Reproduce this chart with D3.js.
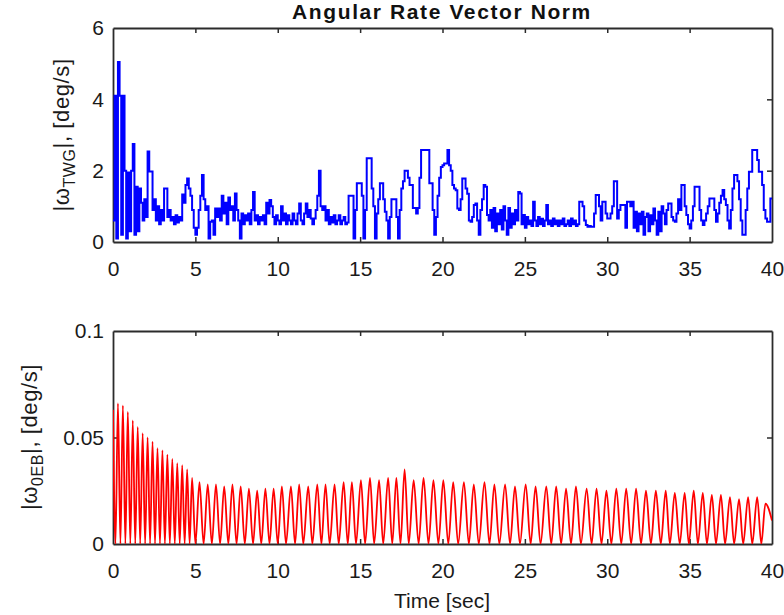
<!DOCTYPE html>
<html>
<head>
<meta charset="utf-8">
<script src="https://cdn.jsdelivr.net/npm/d3@7"></script>
<style>
	body { margin: 0; background: #fff; }
	svg { display: block; font-family: "Liberation Sans", Arial, sans-serif; }
</style>
</head>
<body>
<svg id="chart" width="784" height="615"></svg>
<script>
// time axis, shared by both panels
const timeTicks = [0, 5, 10, 15, 20, 25, 30, 35, 40];

// |w_TWG| sampled every 0.1 s (one row per second)
const twgStep = 0.1;
const twgRate = [
	0.6, 4.1, 0.1, 5.05, 4.1, 0.2, 4.1, 2.0, 0.1, 1.95,
	0.3, 2.0, 2.75, 0.2, 1.55, 0.3, 1.5, 1.1, 0.6, 1.2,
	0.7, 2.54, 1.98, 1.98, 0.9, 1.2, 0.6, 1.0, 0.5, 0.9,
	0.6, 1.5, 1.5, 0.7, 0.9, 0.6, 0.7, 0.5, 0.75, 0.55,
	0.7, 0.6, 1.33, 1.1, 1.6, 1.78, 1.5, 1.3, 0.9, 0.4,
	0.2, 0.4, 0.9, 1.3, 1.88, 1.2, 0.9, 1.0, 0.1, 0.57,
	0.6, 0.2, 0.94, 0.7, 0.94, 0.6, 1.3, 0.8, 1.1, 0.5,
	1.25, 0.9, 1.0, 0.6, 1.36, 0.9, 0.6, 0.1, 0.8, 0.5,
	0.75, 0.6, 0.8, 0.5, 0.9, 1.4, 0.6, 0.75, 0.5, 0.7,
	0.6, 0.75, 0.5, 1.1, 0.8, 1.18, 1.0, 0.7, 0.5, 0.75,
	0.6, 0.5, 1.0, 0.6, 0.8, 0.5, 0.75, 0.6, 0.5, 0.8,
	0.6, 0.5, 0.8, 1.08, 0.6, 0.5, 0.8, 1.08, 0.7, 0.9,
	0.66, 0.5, 0.66, 0.9, 1.3, 2.0, 1.0, 0.9, 1.0, 0.6,
	0.9, 0.5, 0.7, 0.55, 0.75, 0.5, 0.6, 0.75, 0.5, 0.6,
	0.7, 0.5, 0.55, 1.3, 1.3, 1.3, 0.1, 0.9, 1.65, 1.65,
	1.65, 1.3, 0.1, 0.9, 2.35, 2.35, 2.35, 1.5, 1.0, 0.1,
	0.8, 1.2, 1.65, 1.65, 1.2, 0.85, 0.6, 0.1, 0.7, 1.2,
	1.2, 1.2, 0.7, 0.1, 0.9, 1.5, 1.7, 2.0, 2.0, 1.8,
	1.6, 1.6, 0.95, 0.95, 0.8, 0.95, 1.8, 2.58, 2.58, 2.58,
	2.58, 2.58, 1.65, 1.65, 0.9, 0.2, 0.7, 1.3, 1.8, 2.1,
	2.15, 2.2, 2.2, 2.58, 2.15, 2.0, 1.6, 1.5, 1.45, 0.94,
	0.9, 1.2, 1.78, 1.78, 1.5, 1.35, 0.6, 0.57, 0.7, 1.04,
	1.08, 0.6, 0.2, 0.9, 1.2, 1.6, 1.55, 0.76, 0.6, 0.9,
	0.4, 0.95, 0.3, 0.8, 0.5, 0.9, 0.35, 1.0, 0.6, 0.2,
	0.95, 0.4, 0.8, 0.5, 0.9, 0.6, 1.4, 1.36, 0.5, 0.76,
	0.4, 0.7, 0.5, 0.6, 0.45, 1.13, 0.6, 0.45, 0.7, 0.5,
	0.65, 0.45, 0.6, 1.04, 0.5, 0.6, 0.45, 0.66, 0.5, 0.6,
	0.45, 0.6, 0.5, 0.66, 0.45, 0.5, 0.6, 0.45, 0.66, 0.5,
	0.6, 0.45, 0.5, 1.13, 1.13, 1.0, 0.6, 0.48, 0.43, 0.45,
	0.43, 0.43, 0.8, 1.32, 1.32, 1.0, 0.6, 1.13, 1.13, 0.8,
	0.66, 0.66, 0.8, 1.0, 1.7, 1.7, 0.66, 0.9, 1.04, 1.04,
	1.04, 0.4, 1.13, 1.13, 1.0, 1.13, 0.4, 0.85, 0.3, 0.8,
	0.5, 0.85, 0.2, 0.7, 0.8, 0.3, 0.75, 0.5, 0.94, 0.6,
	0.2, 0.85, 0.3, 1.0, 0.8, 0.5, 0.9, 1.08, 1.08, 0.7,
	0.6, 0.57, 0.8, 1.2, 0.9, 1.6, 1.6, 1.0, 0.76, 0.5,
	0.38, 0.6, 1.0, 1.55, 1.55, 1.55, 0.9, 0.6, 0.48, 0.6,
	0.8, 1.0, 1.22, 1.22, 1.22, 0.9, 0.57, 0.8, 1.1, 1.3,
	1.46, 1.2, 1.04, 0.6, 0.38, 0.9, 1.5, 1.88, 1.88, 1.7,
	1.2, 0.6, 0.2, 0.2, 0.9, 1.5, 1.97, 1.97, 2.58, 2.58,
	2.58, 2.3, 1.97, 1.97, 1.6, 0.9, 0.66, 0.57, 0.57, 1.22,
	1.22
];
const twgTicks = [0, 2, 4, 6];

// |w_0EB| oscillation: peaks, and the near-zero troughs between them
const oebPeakTime = [
	0, 0.3, 0.6, 0.9, 1.2, 1.5, 1.8, 2.1, 2.4, 2.7, 3.0, 3.3, 3.6, 3.9, 4.2, 4.5, 4.8,
	5.25, 5.75, 6.25, 6.75, 7.25, 7.75, 8.25, 8.75, 9.25, 9.75,
	10.25, 10.8, 11.3, 11.85, 12.4, 12.9, 13.45, 14.0, 14.5,
	15.05, 15.6, 16.15, 16.7, 17.2, 17.7, 18.25, 18.85, 19.45,
	20.05, 20.65, 21.3, 21.9, 22.55, 23.15, 23.8, 24.4,
	25.05, 25.65, 26.3, 26.9, 27.5, 28.1, 28.75, 29.35, 29.95,
	30.55, 31.15, 31.75, 32.35, 32.95, 33.55, 34.1, 34.7,
	35.25, 35.8, 36.35, 36.9, 37.45, 38.0, 38.55, 39.1, 39.6
];
const oebPeakRate = [
	0.063, 0.066, 0.065, 0.062, 0.058, 0.055, 0.052, 0.050, 0.048, 0.045, 0.044, 0.042, 0.040, 0.038, 0.037, 0.035, 0.031,
	0.029, 0.028, 0.028, 0.027, 0.028, 0.027, 0.026, 0.025, 0.026, 0.026,
	0.027, 0.027, 0.028, 0.027, 0.028, 0.028, 0.028, 0.029, 0.029,
	0.030, 0.031, 0.030, 0.031, 0.031, 0.035, 0.030, 0.031, 0.030,
	0.030, 0.029, 0.029, 0.028, 0.029, 0.028, 0.028, 0.027,
	0.028, 0.027, 0.027, 0.027, 0.026, 0.027, 0.026, 0.026, 0.025,
	0.026, 0.026, 0.026, 0.025, 0.025, 0.025, 0.024, 0.024,
	0.025, 0.024, 0.023, 0.023, 0.022, 0.021, 0.022, 0.022, 0.019
];
const oebTroughTime = [
	0.15, 0.45, 0.75, 1.05, 1.35, 1.65, 1.95, 2.25, 2.55, 2.85, 3.15, 3.45, 3.75, 4.05, 4.35, 4.65, 5.0,
	5.5, 6.0, 6.5, 7.0, 7.5, 8.0, 8.5, 9.0, 9.5, 10.0,
	10.5, 11.05, 11.55, 12.1, 12.65, 13.15, 13.7, 14.25, 14.75,
	15.3, 15.85, 16.4, 16.95, 17.45, 17.95, 18.55, 19.15, 19.75,
	20.35, 20.95, 21.6, 22.2, 22.85, 23.45, 24.1, 24.7,
	25.35, 25.95, 26.6, 27.2, 27.8, 28.4, 29.05, 29.65, 30.25,
	30.85, 31.45, 32.05, 32.65, 33.25, 33.8, 34.4, 34.95,
	35.5, 36.05, 36.6, 37.15, 37.7, 38.25, 38.8, 39.35
];
const oebEnd = { t: 40, v: 0.011 };
const oebTicks = [0, 0.05, 0.1];

const svg = d3.select('#chart');
const left = 113, right = 772;
const fontSize = 21;

const x = d3.scaleLinear().domain([0, 40]).range([left, right]);

function drawPanel(top, bottom, yMax, yTicks, id) {
	const y = d3.scaleLinear().domain([0, yMax]).range([bottom, top]);

	svg.append('clipPath').attr('id', 'clip-' + id)
		.append('rect')
		.attr('x', left).attr('y', top)
		.attr('width', right - left).attr('height', bottom - top);

	const axes = svg.append('g').attr('class', 'axes');

	const styleAxis = function (g) {
		g.selectAll('.domain').attr('stroke', '#2b2b2b').attr('stroke-width', 1.8);
		g.selectAll('.tick line').attr('stroke', '#2b2b2b').attr('stroke-width', 1.5);
		g.selectAll('.tick text')
			.attr('fill', '#1a1a1a')
			.style('font-size', fontSize + 'px');
	};

	axes.append('g')
		.attr('transform', 'translate(0,' + bottom + ')')
		.call(d3.axisBottom(x).tickValues(timeTicks).tickSize(-5).tickSizeOuter(0).tickPadding(19).tickFormat(d3.format('d')))
		.call(styleAxis);
	axes.append('g')
		.attr('transform', 'translate(0,' + top + ')')
		.call(d3.axisTop(x).tickValues(timeTicks).tickSize(-5).tickSizeOuter(0).tickFormat(''))
		.call(styleAxis);
	axes.append('g')
		.attr('transform', 'translate(' + left + ',0)')
		.call(d3.axisLeft(y).tickValues(yTicks).tickSize(-5).tickSizeOuter(0).tickPadding(9).tickFormat(d3.format('')))
		.call(styleAxis);
	axes.append('g')
		.attr('transform', 'translate(' + right + ',0)')
		.call(d3.axisRight(y).tickValues(yTicks).tickSize(-5).tickSizeOuter(0).tickFormat(''))
		.call(styleAxis);

	// hide ticks sitting on the box corners
	axes.selectAll('.tick').filter(function (d) {
		return d === 0 || d === 40 || d === yMax;
	}).select('line').remove();

	return { y: y, clip: 'url(#clip-' + id + ')' };
}

// ---- top panel
const p1 = drawPanel(28, 242, 6, twgTicks, 'twg');
const twgLine = d3.line()
	.x(function (d, i) { return x(i * twgStep); })
	.y(function (d) { return p1.y(d); })
	.curve(d3.curveStepAfter);

svg.append('path')
	.datum(twgRate)
	.attr('clip-path', p1.clip)
	.attr('fill', 'none')
	.attr('stroke', '#0000ff')
	.attr('stroke-width', 2)
	.attr('d', twgLine);

// ---- bottom panel
const p2 = drawPanel(331, 544, 0.1, oebTicks, 'oeb');
const oebPoints = oebPeakTime.map(function (t, i) { return { t: t, v: oebPeakRate[i] }; })
	.concat(oebTroughTime.map(function (t) { return { t: t, v: 0 }; }))
	.concat([oebEnd])
	.sort(function (a, b) { return a.t - b.t; });

const oebLine = d3.line()
	.x(function (d) { return x(d.t); })
	.y(function (d) { return p2.y(d.v); })
	.curve(d3.curveMonotoneX);

svg.append('path')
	.datum(oebPoints)
	.attr('clip-path', p2.clip)
	.attr('fill', 'none')
	.attr('stroke', '#ff0000')
	.attr('stroke-width', 1.8)
	.attr('d', oebLine);

// ---- labels
svg.append('text')
	.attr('x', 442).attr('y', 19)
	.attr('text-anchor', 'middle')
	.style('font-size', '21px')
	.style('font-weight', 'bold')
	.style('letter-spacing', '1.6px')
	.attr('fill', '#111')
	.text('Angular Rate Vector Norm');

function yLabel(cx, cy, sub) {
	const t = svg.append('text')
		.attr('transform', 'translate(' + cx + ',' + cy + ') rotate(-90)')
		.attr('text-anchor', 'middle')
		.style('font-size', '22px')
		.style('letter-spacing', '0.6px')
		.attr('fill', '#1a1a1a');
	t.append('tspan').text('|\u03c9');
	t.append('tspan').attr('dy', 6).style('font-size', '16px').text(sub);
	t.append('tspan').attr('dy', -6).text('|, [deg/s]');
}
yLabel(69, 135, 'TWG');
yLabel(37, 437, '0EB');

svg.append('text')
	.attr('x', 442).attr('y', 608)
	.attr('text-anchor', 'middle')
	.style('font-size', fontSize + 'px')
	.attr('fill', '#1a1a1a')
	.text('Time [sec]');
</script>
</body>
</html>
